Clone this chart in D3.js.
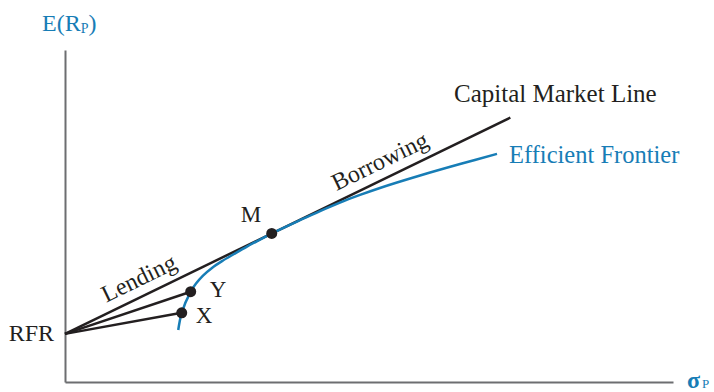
<!DOCTYPE html>
<html>
<head>
<meta charset="utf-8">
<script src="https://cdn.jsdelivr.net/npm/d3@7"></script>
<style>
  html, body { margin: 0; padding: 0; background: #fff; }
  svg { display: block; }
  text { font-family: "Liberation Serif", "Times New Roman", serif; }
</style>
</head>
<body>
<div id="chart"></div>
<script>
// ---- data (arbitrary units: sigma = risk, er = expected return) ----
const rfr = { sigma: 0, er: 2.9 };
const cmlEnd = { sigma: 29.3, er: 15.93 };
const frontierSigma = [7.45, 7.68, 8.27, 8.62, 9.08, 9.67, 10.33, 11.12, 11.97, 12.83, 13.60, 15.46, 16.78, 18.09, 19.41, 20.72, 23.36, 25.99, 28.42];
const frontierER    = [3.13, 4.17, 5.44, 5.93, 6.41, 6.87, 7.28, 7.71, 8.16, 8.58, 8.95, 9.75, 10.30, 10.81, 11.27, 11.69, 12.44, 13.13, 13.74];
const portfolioNames = ["X", "Y", "M"];
const portfolioSigma = [7.68, 8.27, 13.60];
const portfolioER    = [4.17, 5.44, 8.95];
const lineLabels = ["Lending", "Borrowing"];
const lineLabelSigma = [3.0, 18.15];

const W = 714, H = 392;
const blue = "#177db6", ink = "#231f20", axisGray = "#6d6e71";

const svg = d3.select("#chart").append("svg").attr("width", W).attr("height", H);

const x = d3.scaleLinear().domain([0, 40]).range([65, 673]);
const y = d3.scaleLinear().domain([0, 20]).range([382, 50]);

// axes (no ticks, just the domain lines)
const xAxis = svg.append("g").attr("transform", `translate(0,${y(0)})`)
  .call(d3.axisBottom(x).tickValues([]).tickSizeOuter(0));
const yAxis = svg.append("g").attr("transform", `translate(${x(0)},0)`)
  .call(d3.axisLeft(y).tickValues([]).tickSizeOuter(0));
[xAxis, yAxis].forEach(g => g.select(".domain").attr("stroke", axisGray).attr("stroke-width", 2));

// Capital market line
const cmlSlope = (cmlEnd.er - rfr.er) / (cmlEnd.sigma - rfr.sigma);
const line = d3.line().x(d => x(d[0])).y(d => y(d[1]));
svg.append("path")
  .attr("d", line([[rfr.sigma, rfr.er], [cmlEnd.sigma, cmlEnd.er]]))
  .attr("stroke", ink).attr("stroke-width", 2.5).attr("fill", "none");

// lines from RFR to X and Y
[0, 1].forEach(i => {
  svg.append("path")
    .attr("d", line([[rfr.sigma, rfr.er], [portfolioSigma[i], portfolioER[i]]]))
    .attr("stroke", ink).attr("stroke-width", 2.5).attr("fill", "none");
});

// efficient frontier
const fr = frontierSigma.map((s, i) => [s, frontierER[i]]);
svg.append("path")
  .attr("d", d3.line().x(d => x(d[0])).y(d => y(d[1])).curve(d3.curveCatmullRom.alpha(0.5))(fr))
  .attr("stroke", blue).attr("stroke-width", 2.5).attr("fill", "none");

// portfolio dots
portfolioNames.forEach((n, i) => {
  svg.append("circle")
    .attr("cx", x(portfolioSigma[i])).attr("cy", y(portfolioER[i]))
    .attr("r", 5.5).attr("fill", ink);
});

// portfolio labels
const labelOffsets = { X: [14, 10], Y: [19, 5], M: [-31, -11] };
portfolioNames.forEach((n, i) => {
  svg.append("text")
    .attr("x", x(portfolioSigma[i]) + labelOffsets[n][0])
    .attr("y", y(portfolioER[i]) + labelOffsets[n][1])
    .attr("font-size", 23).attr("fill", ink).text(n);
});

// Lending / Borrowing rotated along CML
const angle = Math.atan2(y(rfr.er) - y(cmlEnd.er), x(cmlEnd.sigma) - x(rfr.sigma)) * 180 / Math.PI;
lineLabels.forEach((t, i) => {
  const s = lineLabelSigma[i];
  const px = x(s), py = y(rfr.er + cmlSlope * s);
  svg.append("text")
    .attr("transform", `translate(${px},${py}) rotate(${-angle})`)
    .attr("dy", -10)
    .attr("font-size", 24).attr("fill", ink).text(t);
});

// RFR
svg.append("text").attr("x", x(0) - 11).attr("y", y(rfr.er) + 7)
  .attr("text-anchor", "end").attr("font-size", 24).attr("fill", ink).text("RFR");

// line names
svg.append("text").attr("x", 454).attr("y", 102)
  .attr("font-size", 25).attr("fill", ink).text("Capital Market Line");
svg.append("text").attr("x", 509).attr("y", 163)
  .attr("font-size", 24.5).attr("fill", blue).text("Efficient Frontier");

// axis titles
const yt = svg.append("text").attr("x", 42).attr("y", 31).attr("font-size", 24).attr("fill", blue);
yt.append("tspan").text("E(R");
yt.append("tspan").attr("font-size", 14).attr("dy", 2).text("P");
yt.append("tspan").attr("dy", -2).text(")");

const xt = svg.append("text").attr("x", 687).attr("y", 388).attr("font-size", 24).attr("fill", blue);
xt.append("tspan").attr("font-weight", "bold").text("σ");
xt.append("tspan").attr("font-size", 13).attr("dx", 2).text("P");
</script>
</body>
</html>
